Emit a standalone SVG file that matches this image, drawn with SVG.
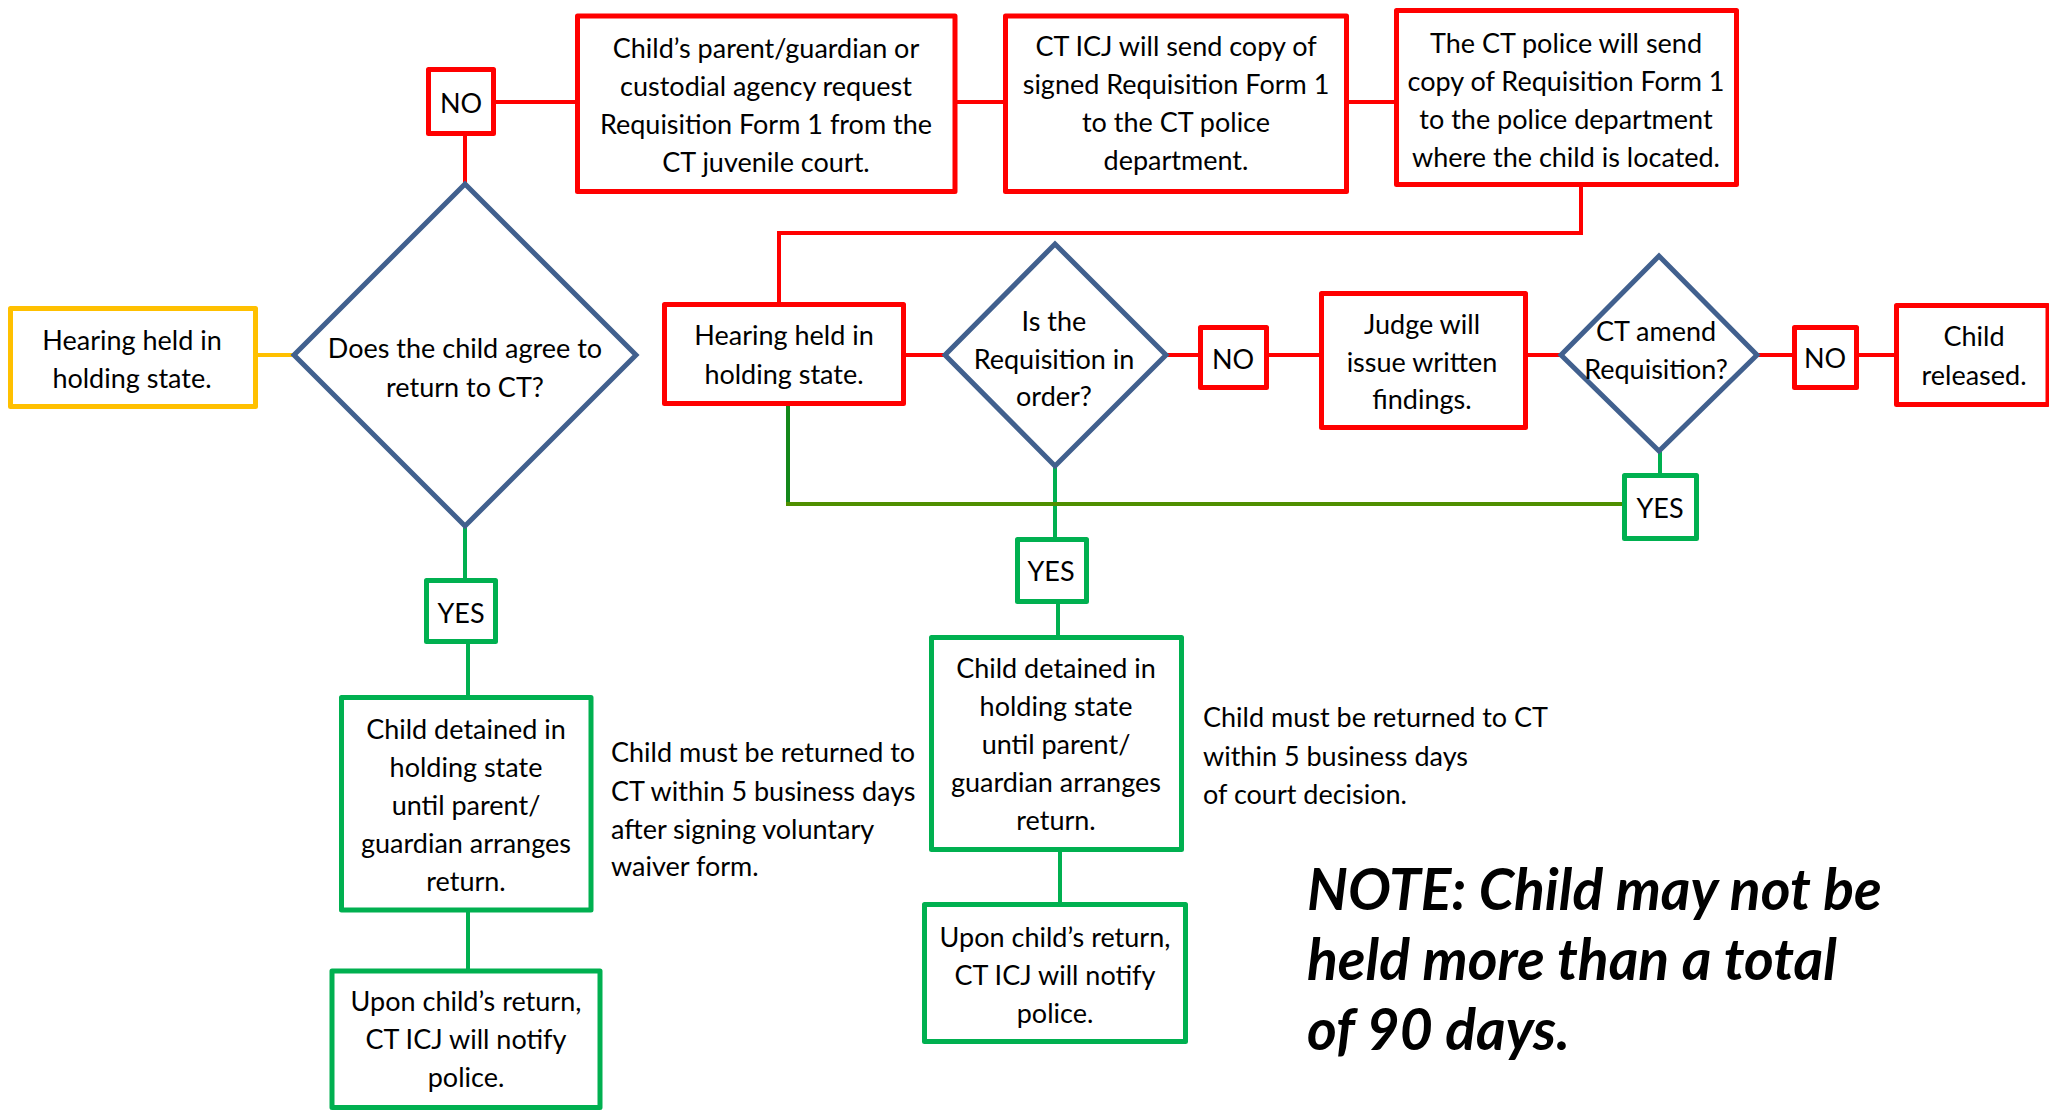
<svg xmlns="http://www.w3.org/2000/svg" width="2049" height="1111" viewBox="0 0 2049 1111">
<style>
  .bx { fill: #fff; stroke-width: 5; stroke-linejoin: round; }
  .red { stroke: #FF0000; }
  .grn { stroke: #00B050; }
  .yel { stroke: #FFC000; }
  .dia { fill: #fff; stroke: #41608E; stroke-width: 5; }
  .t { font-family: Lato, "Liberation Sans", sans-serif; font-size: 27px; fill: #000; text-anchor: middle; }
  .s { font-family: Lato, "Liberation Sans", sans-serif; font-size: 27px; fill: #000; }
  .note { font-family: Lato, "Liberation Sans", sans-serif; font-size: 57px; font-weight: bold; font-style: italic; fill: #000; }
  .c { fill: none; stroke-width: 4; }
</style>
<rect width="2049" height="1111" fill="#fff"/>
<g id="connectors">
  <g class="c red" stroke="#FF0000">
    <line x1="495" y1="102" x2="576" y2="102"/>
    <line x1="465" y1="133" x2="465" y2="186"/>
    <line x1="957" y1="102" x2="1004" y2="102"/>
    <line x1="1348" y1="102" x2="1395" y2="102"/>
    <polyline points="1581,186 1581,233 779,233 779,303"/>
    <line x1="906" y1="355" x2="946" y2="355"/>
    <line x1="1165" y1="355" x2="1199" y2="355"/>
    <line x1="1268" y1="355" x2="1320" y2="355"/>
    <line x1="1527" y1="355" x2="1563" y2="355"/>
    <line x1="1757" y1="355" x2="1793" y2="355"/>
    <line x1="1858" y1="355" x2="1895" y2="355"/>
  </g>
  <line class="c" stroke="#FFC000" x1="251" y1="355" x2="295" y2="355"/>
  <g class="c" stroke="#00B050">
    <line x1="465" y1="526" x2="465" y2="579"/>
    <line x1="468" y1="643" x2="468" y2="696"/>
    <line x1="468" y1="911" x2="468" y2="970"/>
    <line x1="1055" y1="465" x2="1055" y2="538"/>
    <line x1="1058" y1="603" x2="1058" y2="636"/>
    <line x1="1060" y1="851" x2="1060" y2="903"/>
    <line x1="1660" y1="450" x2="1660" y2="474"/>
  </g>
  <line class="c" stroke="#13871A" stroke-width="5" x1="788" y1="406" x2="788" y2="506"/>
  <line class="c" stroke="#4F8F00" stroke-width="5" x1="786" y1="504" x2="1623" y2="504"/>
</g>

<g id="no1">
  <rect class="bx red" x="428.5" y="69.5" width="65" height="64"/>
  <text class="t" x="461" y="113">NO</text>
</g>
<g id="req-form-request">
  <rect class="bx red" x="577.5" y="16" width="377.5" height="175.5"/>
  <text class="t" x="766" y="58">Child’s parent/guardian or</text>
  <text class="t" x="766" y="96">custodial agency request</text>
  <text class="t" x="766" y="134">Requisition Form 1 from the</text>
  <text class="t" x="766" y="172">CT juvenile court.</text>
</g>
<g id="icj-send">
  <rect class="bx red" x="1005.5" y="16" width="341" height="175.5"/>
  <text class="t" x="1176" y="56">CT ICJ will send copy of</text>
  <text class="t" x="1176" y="94">signed Requisition Form 1</text>
  <text class="t" x="1176" y="132">to the CT police</text>
  <text class="t" x="1176" y="170">department.</text>
</g>
<g id="police-send">
  <rect class="bx red" x="1396.5" y="10.5" width="340" height="174"/>
  <text class="t" x="1566" y="53">The CT police will send</text>
  <text class="t" x="1566" y="91">copy of Requisition Form 1</text>
  <text class="t" x="1566" y="129">to the police department</text>
  <text class="t" x="1566" y="167">where the child is located.</text>
</g>
<g id="hearing1">
  <rect class="bx yel" x="10.5" y="308.5" width="245" height="98"/>
  <text class="t" x="132" y="350">Hearing held in</text>
  <text class="t" x="132" y="388">holding state.</text>
</g>
<g id="agree-decision">
  <polygon class="dia" points="465,184 636,355 465,526 294,355"/>
  <text class="t" x="465" y="358">Does the child agree to</text>
  <text class="t" x="465" y="397">return to CT?</text>
</g>
<g id="hearing2">
  <rect class="bx red" x="664.5" y="304.5" width="239" height="99"/>
  <text class="t" x="784" y="345">Hearing held in</text>
  <text class="t" x="784" y="384">holding state.</text>
</g>
<g id="order-decision">
  <polygon class="dia" points="1055,244 1166,355 1055,466 945,355"/>
  <text class="t" x="1054" y="331">Is the</text>
  <text class="t" x="1054" y="369">Requisition in</text>
  <text class="t" x="1054" y="406">order?</text>
</g>
<g id="no2">
  <rect class="bx red" x="1200.5" y="327.5" width="66" height="60"/>
  <text class="t" x="1233" y="369">NO</text>
</g>
<g id="judge">
  <rect class="bx red" x="1321.5" y="293.5" width="204" height="134"/>
  <text class="t" x="1422" y="334">Judge will</text>
  <text class="t" x="1422" y="372">issue written</text>
  <text class="t" x="1422" y="409">findings.</text>
</g>
<g id="amend-decision">
  <polygon class="dia" points="1659,256 1757,355 1659,451 1561,355"/>
  <text class="t" x="1656" y="341">CT amend</text>
  <text class="t" x="1656" y="379">Requisition?</text>
</g>
<g id="no3">
  <rect class="bx red" x="1794.5" y="327.5" width="62" height="60"/>
  <text class="t" x="1825" y="368">NO</text>
</g>
<g id="released">
  <rect class="bx red" x="1896.5" y="305.5" width="151.5" height="99"/>
  <text class="t" x="1974" y="346">Child</text>
  <text class="t" x="1974" y="385">released.</text>
</g>
<g id="yes1">
  <rect class="bx grn" x="426.5" y="580.5" width="69" height="61"/>
  <text class="t" x="461" y="623">YES</text>
</g>
<g id="yes2">
  <rect class="bx grn" x="1017.5" y="539.5" width="69" height="62"/>
  <text class="t" x="1051" y="581">YES</text>
</g>
<g id="yes3">
  <rect class="bx grn" x="1624.5" y="475.5" width="72" height="63"/>
  <text class="t" x="1660" y="518">YES</text>
</g>
<g id="detained1">
  <rect class="bx grn" x="341.5" y="697.5" width="249.5" height="212.5"/>
  <text class="t" x="466" y="739">Child detained in</text>
  <text class="t" x="466" y="777">holding state</text>
  <text class="t" x="466" y="815">until parent/</text>
  <text class="t" x="466" y="853">guardian arranges</text>
  <text class="t" x="466" y="891">return.</text>
</g>
<g id="notify1">
  <rect class="bx grn" x="332" y="971" width="268" height="136.5"/>
  <text class="t" x="466" y="1011">Upon child’s return,</text>
  <text class="t" x="466" y="1049">CT ICJ will notify</text>
  <text class="t" x="466" y="1087">police.</text>
</g>
<g id="note-waiver">
  <text class="s" x="611" y="762">Child must be returned to</text>
  <text class="s" x="611" y="801">CT within 5 business days</text>
  <text class="s" x="611" y="839">after signing voluntary</text>
  <text class="s" x="611" y="876">waiver form.</text>
</g>
<g id="detained2">
  <rect class="bx grn" x="931.5" y="637.5" width="250" height="212"/>
  <text class="t" x="1056" y="678">Child detained in</text>
  <text class="t" x="1056" y="716">holding state</text>
  <text class="t" x="1056" y="754">until parent/</text>
  <text class="t" x="1056" y="792">guardian arranges</text>
  <text class="t" x="1056" y="830">return.</text>
</g>
<g id="notify2">
  <rect class="bx grn" x="924.5" y="904.5" width="261" height="137"/>
  <text class="t" x="1055" y="947">Upon child’s return,</text>
  <text class="t" x="1055" y="985">CT ICJ will notify</text>
  <text class="t" x="1055" y="1023">police.</text>
</g>
<g id="note-court">
  <text class="s" x="1203" y="727">Child must be returned to CT</text>
  <text class="s" x="1203" y="766">within 5 business days</text>
  <text class="s" x="1203" y="804">of court decision.</text>
</g>
<g id="note-90">
  <text class="note" x="1307" y="910">NOTE: Child may not be</text>
  <text class="note" x="1307" y="980">held more than a total</text>
  <text class="note" x="1307" y="1050">of 90 days.</text>
</g>
</svg>
